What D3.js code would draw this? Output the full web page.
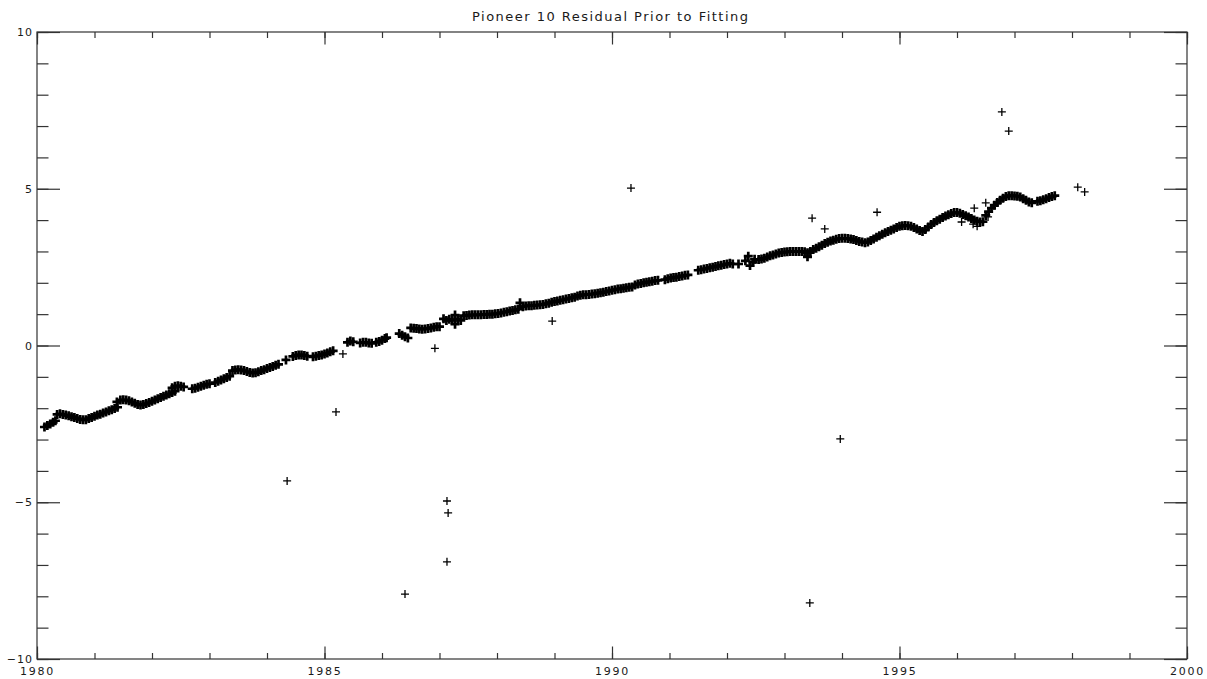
<!DOCTYPE html>
<html>
<head>
<meta charset="utf-8">
<script src="https://cdn.jsdelivr.net/npm/d3@7"></script>
<style>
  html, body { margin: 0; padding: 0; background: #fff; }
  svg { display: block; }
</style>
</head>
<body>
<svg id="chart" width="1207" height="679"></svg>
<script>
// ---------------- DATA ----------------
const chartTitle = "Pioneer 10 Residual Prior to Fitting";
const xTickLabels = [1980, 1985, 1990, 1995, 2000];
const yTickLabels = [-10, -5, 0, 5, 10];

// Main residual track (year, residual)
const trackYear = [
  1980.13,1980.18,1980.23,1980.28,1980.32,
  1980.35,1980.40,1980.45,1980.50,1980.55,1980.60,1980.65,1980.70,1980.75,1980.80,
  1980.85,1980.90,1980.95,1981.00,1981.05,1981.10,1981.15,1981.20,1981.25,1981.30,1981.35,1981.40,1981.39,
  1981.45,1981.50,1981.55,1981.60,1981.65,1981.70,1981.75,1981.80,1981.85,
  1981.90,1981.95,1982.00,1982.05,1982.10,1982.15,1982.20,1982.25,1982.30,1982.35,1982.40,
  1982.35,1982.40,1982.45,1982.50,1982.55,
  1982.70,1982.75,1982.80,1982.85,1982.90,1982.95,1983.00,
  1983.10,1983.15,1983.20,1983.25,1983.30,1983.35,
  1983.40,1983.45,1983.50,1983.55,1983.60,1983.65,1983.70,1983.75,1983.80,1983.85,1983.90,1983.95,1984.00,1984.05,1984.10,1984.15,1984.20,
  1984.33,
  1984.45,1984.50,1984.55,1984.60,1984.65,1984.70,
  1984.80,1984.85,1984.90,1984.95,1985.00,1985.05,1985.10,1985.15,
  1985.40,1985.45,1985.50,
  1985.62,1985.67,1985.72,1985.77,1985.82,
  1985.90,1985.95,1986.00,1986.05,1986.08,
  1986.30,1986.35,1986.40,1986.45,
  1986.50,1986.55,1986.60,1986.65,1986.70,1986.75,1986.80,1986.85,1986.90,1986.95,1987.00,
  1987.07,1987.12,1987.17,
  1987.22,1987.27,1987.27,1987.32,1987.37,
  1987.42,1987.47,1987.52,1987.57,1987.62,1987.67,1987.72,1987.77,1987.82,1987.87,1987.92,1987.97,1988.02,1988.07,1988.12,1988.17,1988.22,1988.27,1988.32,1988.37,
  1988.40,
  1988.45,1988.50,1988.55,1988.60,1988.65,1988.70,1988.75,1988.80,1988.85,1988.90,1988.95,
  1989.00,1989.05,1989.10,1989.15,1989.20,1989.25,1989.30,1989.35,
  1989.40,1989.45,1989.50,1989.55,1989.60,1989.65,1989.70,1989.75,1989.80,1989.85,1989.90,1989.95,1990.00,1990.05,1990.10,
  1990.15,1990.20,1990.25,1990.30,1990.35,
  1990.40,1990.45,1990.50,1990.55,1990.60,1990.65,1990.70,1990.75,1990.80,
  1990.92,1990.97,1991.02,1991.07,1991.12,1991.17,1991.22,1991.27,1991.32,
  1991.50,1991.55,1991.60,1991.65,1991.70,1991.75,1991.80,1991.85,1991.90,1991.95,1992.00,1992.05,
  1992.10,1992.20,
  1992.32,1992.37,1992.40,1992.45,1992.48,
  1992.55,1992.60,1992.65,1992.70,1992.75,1992.80,1992.85,1992.90,1992.95,
  1993.00,1993.05,1993.10,1993.15,1993.20,1993.25,1993.30,1993.35,1993.40,1993.40,
  1993.45,1993.50,1993.55,1993.60,1993.65,1993.70,1993.75,1993.80,1993.85,1993.90,1993.95,1994.00,
  1994.05,1994.10,1994.15,1994.20,1994.25,1994.30,1994.35,1994.40,
  1994.45,1994.50,1994.55,1994.60,1994.65,1994.70,1994.75,1994.80,1994.85,1994.90,1994.95,1995.00,1995.05,1995.10,1995.15,
  1995.20,1995.25,1995.30,1995.35,1995.40,
  1995.45,1995.50,1995.55,1995.60,1995.65,1995.70,1995.75,1995.80,1995.85,1995.90,1995.95,
  1996.00,1996.05,1996.10,1996.15,1996.20,1996.25,1996.30,1996.35,1996.40,1996.45,
  1996.50,1996.55,1996.60,1996.65,1996.70,1996.75,1996.80,1996.85,1996.90,1996.95,1997.00,1997.05,1997.10,
  1997.15,1997.20,1997.25,1997.30,
  1997.40,1997.45,1997.50,1997.55,1997.60,1997.65,1997.70
];
const trackValue = [
  -2.60,-2.55,-2.50,-2.45,-2.40,
  -2.20,-2.18,-2.20,-2.22,-2.24,-2.27,-2.30,-2.33,-2.36,-2.37,
  -2.37,-2.33,-2.30,-2.26,-2.22,-2.19,-2.15,-2.12,-2.08,-2.05,-2.01,-1.97,-1.80,
  -1.74,-1.73,-1.74,-1.76,-1.80,-1.84,-1.88,-1.90,-1.88,
  -1.85,-1.82,-1.78,-1.74,-1.70,-1.66,-1.62,-1.58,-1.54,-1.50,-1.46,
  -1.35,-1.30,-1.28,-1.30,-1.32,
  -1.38,-1.36,-1.33,-1.30,-1.27,-1.24,-1.22,
  -1.18,-1.14,-1.10,-1.06,-1.02,-0.98,
  -0.80,-0.78,-0.77,-0.78,-0.80,-0.83,-0.86,-0.88,-0.87,-0.84,-0.80,-0.77,-0.73,-0.70,-0.67,-0.63,-0.60,
  -0.46,
  -0.35,-0.32,-0.30,-0.30,-0.32,-0.34,
  -0.36,-0.34,-0.32,-0.30,-0.27,-0.24,-0.20,-0.17,
  0.10,0.14,0.12,
  0.08,0.10,0.10,0.08,0.07,
  0.10,0.13,0.17,0.22,0.25,
  0.38,0.33,0.28,0.24,
  0.56,0.55,0.54,0.53,0.52,0.53,0.54,0.56,0.58,0.60,0.60,
  0.85,0.80,0.84,
  0.80,0.97,0.68,0.85,0.80,
  0.95,0.96,0.97,0.98,0.98,0.98,0.98,0.99,0.99,1.00,1.00,1.01,1.02,1.04,1.06,1.08,1.10,1.12,1.14,1.16,
  1.36,
  1.24,1.26,1.27,1.27,1.28,1.29,1.30,1.31,1.33,1.35,1.38,
  1.40,1.42,1.44,1.46,1.48,1.50,1.52,1.54,
  1.58,1.60,1.62,1.62,1.63,1.64,1.65,1.67,1.68,1.70,1.72,1.74,1.76,1.78,1.80,
  1.81,1.83,1.84,1.86,1.87,
  1.93,1.96,1.98,2.00,2.02,2.03,2.05,2.07,2.08,
  2.10,2.13,2.15,2.17,2.18,2.20,2.22,2.24,2.25,
  2.40,2.42,2.44,2.46,2.48,2.50,2.52,2.54,2.56,2.58,2.60,2.62,
  2.60,2.60,
  2.70,2.85,2.55,2.65,2.75,
  2.74,2.76,2.78,2.82,2.86,2.89,2.92,2.95,2.97,
  2.98,2.99,3.00,3.00,3.00,3.00,3.00,2.99,2.96,2.83,
  3.00,3.06,3.10,3.15,3.20,3.25,3.29,3.33,3.36,3.39,3.41,3.42,
  3.42,3.41,3.40,3.38,3.35,3.32,3.30,3.28,
  3.30,3.35,3.40,3.45,3.50,3.55,3.60,3.64,3.68,3.72,3.76,3.80,3.82,3.83,3.82,
  3.80,3.76,3.72,3.67,3.64,
  3.70,3.78,3.86,3.92,3.98,4.03,4.08,4.13,4.17,4.21,4.24,
  4.24,4.22,4.18,4.14,4.10,4.05,4.00,3.96,3.94,3.95,
  4.15,4.27,4.38,4.47,4.56,4.63,4.70,4.75,4.78,4.78,4.77,4.76,4.74,
  4.68,4.63,4.58,4.55,
  4.60,4.62,4.65,4.68,4.72,4.75,4.78
];

// Scattered individual points
const scatterYear = [
  1984.35,1985.20,1985.32,1986.40,1986.92,1987.13,1987.15,1987.13,1988.96,
  1990.33,1993.44,1993.48,1993.70,1993.97,1994.61,
  1996.08,1996.28,1996.35,1996.30,1996.50,1996.54,
  1996.78,1996.90,1998.10,1998.22
];
const scatterValue = [
  -4.32,-2.12,-0.27,-7.93,-0.09,-4.96,-5.34,-6.90,0.78,
  5.02,-8.21,4.06,3.72,-2.98,4.25,
  3.94,3.87,3.80,4.38,4.55,4.10,
  7.45,6.84,5.05,4.90
];

// ---------------- CHART ----------------
const svg = d3.select("#chart");
const plotLeft = 37, plotRight = 1187, plotTop = 32, plotBottom = 659;

const x = d3.scaleLinear().domain([1980, 2000]).range([plotLeft, plotRight]);
const y = d3.scaleLinear().domain([-10, 10]).range([plotBottom, plotTop]);

const axisColor = "#333";
const textColor = "#1a1a1a";
const font = "'DejaVu Sans', 'Liberation Sans', sans-serif";

function styleAxis(g) {
  g.select(".domain").remove();
  g.selectAll(".tick line").attr("stroke", axisColor).attr("stroke-width", 1.2);
  g.selectAll("text")
    .attr("fill", textColor)
    .style("font-family", font)
    .style("font-size", "11px")
    .style("letter-spacing", "1.8px");
}

const xMinor = d3.range(1980, 2001, 1);
const yMinor = d3.range(-10, 11, 1);

// bottom
svg.append("g").attr("transform", `translate(0,${plotBottom})`)
  .call(d3.axisBottom(x).tickValues(xMinor).tickSize(-6).tickFormat(""))
  .call(styleAxis);
svg.append("g").attr("transform", `translate(0,${plotBottom})`)
  .call(d3.axisBottom(x).tickValues(xTickLabels).tickSize(-12.5).tickPadding(8).tickFormat(d3.format("d")))
  .call(styleAxis);
// top
svg.append("g").attr("transform", `translate(0,${plotTop})`)
  .call(d3.axisTop(x).tickValues(xMinor).tickSize(-6).tickFormat(""))
  .call(styleAxis);
svg.append("g").attr("transform", `translate(0,${plotTop})`)
  .call(d3.axisTop(x).tickValues(xTickLabels).tickSize(-12.5).tickFormat(""))
  .call(styleAxis);
// left
svg.append("g").attr("transform", `translate(${plotLeft},0)`)
  .call(d3.axisLeft(y).tickValues(yMinor).tickSize(-11.5).tickFormat(""))
  .call(styleAxis);
svg.append("g").attr("transform", `translate(${plotLeft},0)`)
  .call(d3.axisLeft(y).tickValues(yTickLabels).tickSize(-23).tickPadding(4))
  .call(styleAxis)
  .call(g => g.selectAll("text").style("letter-spacing", "1px"));
// right
svg.append("g").attr("transform", `translate(${plotRight},0)`)
  .call(d3.axisRight(y).tickValues(yMinor).tickSize(-11.5).tickFormat(""))
  .call(styleAxis);
svg.append("g").attr("transform", `translate(${plotRight},0)`)
  .call(d3.axisRight(y).tickValues(yTickLabels).tickSize(-23).tickFormat(""))
  .call(styleAxis);

// frame
svg.append("rect")
  .attr("x", plotLeft).attr("y", plotTop)
  .attr("width", plotRight - plotLeft).attr("height", plotBottom - plotTop)
  .attr("fill", "none").attr("stroke", axisColor).attr("stroke-width", 1.2);

// title
svg.append("text")
  .attr("x", (plotLeft + plotRight) / 2 - 2).attr("y", 21)
  .attr("text-anchor", "middle")
  .attr("fill", textColor)
  .attr("textLength", 276).attr("lengthAdjust", "spacing")
  .style("font-family", font).style("font-size", "13px")
  .text(chartTitle);

// plus markers
const plusTrack = "M-4.5,0H4.5M0,-4.5V4.5";
const plusSingle = "M-4,0H4M0,-4V4";
const track = d3.zip(trackYear, trackValue);
const scatter = d3.zip(scatterYear, scatterValue);

svg.append("g").selectAll("path")
  .data(track).join("path")
  .attr("d", plusTrack)
  .attr("transform", d => `translate(${x(d[0])},${y(d[1])})`)
  .attr("stroke", "#000").attr("stroke-width", 2.7).attr("fill", "none");

svg.append("g").selectAll("path")
  .data(scatter).join("path")
  .attr("d", plusSingle)
  .attr("transform", d => `translate(${x(d[0])},${y(d[1])})`)
  .attr("stroke", "#000").attr("stroke-width", 1.3).attr("fill", "none");
</script>
</body>
</html>
